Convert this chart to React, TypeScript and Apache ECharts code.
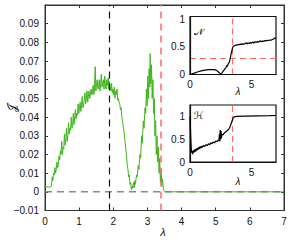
import React, { useEffect, useRef } from "react";
import * as echarts from "echarts";

// Main curve J(λ)
const mainX = [0, 0.05, 0.1, 0.15, 0.19, 0.21, 0.23, 0.25, 0.27, 0.29, 0.31, 0.33, 0.35, 0.37, 0.39, 0.41, 0.43, 0.45, 0.47, 0.49, 0.51, 0.53, 0.55, 0.57, 0.59, 0.61, 0.63, 0.65, 0.67, 0.69, 0.71, 0.73, 0.75, 0.77, 0.79, 0.81, 0.83, 0.85, 0.87, 0.89, 0.91, 0.93, 0.95, 0.97, 0.99, 1.01, 1.03, 1.05, 1.07, 1.09, 1.11, 1.13, 1.15, 1.17, 1.19, 1.21, 1.23, 1.25, 1.27, 1.29, 1.31, 1.33, 1.35, 1.37, 1.39, 1.41, 1.43, 1.45, 1.47, 1.49, 1.51, 1.53, 1.55, 1.57, 1.59, 1.61, 1.63, 1.65, 1.67, 1.69, 1.71, 1.73, 1.75, 1.77, 1.79, 1.81, 1.83, 1.85, 1.87, 1.89, 1.91, 1.93, 1.95, 1.97, 1.99, 2.01, 2.03, 2.05, 2.07, 2.09, 2.11, 2.13, 2.15, 2.17, 2.19, 2.21, 2.23, 2.25, 2.27, 2.29, 2.31, 2.33, 2.35, 2.37, 2.39, 2.41, 2.43, 2.45, 2.47, 2.49, 2.51, 2.53, 2.55, 2.57, 2.59, 2.61, 2.63, 2.65, 2.68, 2.7, 2.73, 2.75, 2.78, 2.8, 2.83, 2.85, 2.88, 2.9, 2.93, 2.95, 2.97, 2.99, 3.01, 3.03, 3.05, 3.07, 3.08, 3.1, 3.12, 3.14, 3.16, 3.18, 3.2, 3.22, 3.24, 3.26, 3.28, 3.3, 3.32, 3.34, 3.36, 3.38, 3.4, 3.42, 3.44, 3.47, 3.52, 7];
const mainY = [0.003, 0.0028, 0.0025, 0.0026, 0.003, 0.008, 0.006, 0.01, 0.009, 0.013, 0.01, 0.012, 0.016, 0.013, 0.014, 0.019, 0.017, 0.022, 0.02, 0.027, 0.02, 0.024, 0.023, 0.031, 0.025, 0.028, 0.034, 0.027, 0.03, 0.037, 0.031, 0.034, 0.033, 0.04, 0.034, 0.036, 0.042, 0.036, 0.04, 0.044, 0.039, 0.042, 0.041, 0.047, 0.042, 0.045, 0.048, 0.043, 0.046, 0.051, 0.045, 0.047, 0.049, 0.053, 0.047, 0.05, 0.054, 0.048, 0.051, 0.054, 0.05, 0.052, 0.055, 0.052, 0.053, 0.057, 0.052, 0.055, 0.067, 0.054, 0.058, 0.06, 0.055, 0.056, 0.06, 0.054, 0.058, 0.063, 0.056, 0.058, 0.06, 0.055, 0.062, 0.057, 0.055, 0.06, 0.057, 0.061, 0.055, 0.059, 0.056, 0.054, 0.058, 0.053, 0.055, 0.052, 0.056, 0.05, 0.054, 0.052, 0.055, 0.049, 0.05, 0.048, 0.047, 0.044, 0.045, 0.04, 0.038, 0.035, 0.033, 0.029, 0.026, 0.022, 0.019, 0.014, 0.012, 0.008, 0.009, 0.004, 0.005, 0.001, 0.003, 0.002, 0.005, 0.002, 0.006, 0.004, 0.009, 0.008, 0.014, 0.012, 0.02, 0.018, 0.03, 0.026, 0.038, 0.034, 0.045, 0.042, 0.055, 0.046, 0.062, 0.05, 0.066, 0.056, 0.074, 0.058, 0.068, 0.05, 0.06, 0.042, 0.05, 0.03, 0.038, 0.02, 0.03, 0.016, 0.024, 0.01, 0.018, 0.005, 0.012, 0.003, 0.007, 0.001, 0, 0];

// Inset N(λ)
const nX = [0, 0.3, 0.6, 0.9, 1.2, 1.5, 1.8, 2.0, 2.15, 2.3, 2.4, 2.5, 2.6, 2.7, 2.8, 2.9, 3.0, 3.05, 3.1, 3.2, 3.25, 3.3, 3.35, 3.4, 3.45, 3.5, 3.6, 3.7, 3.8, 3.9, 4.0, 4.1, 4.2, 4.3, 4.4, 4.5, 4.6, 4.65, 4.7, 4.8, 4.9, 5.0, 5.1, 5.2, 5.3, 5.4, 5.5, 5.6, 5.7, 5.8, 5.9, 6.0, 6.1, 6.2, 6.3, 6.4, 6.5, 6.6, 6.7, 6.8, 6.9, 7.0];
const nY = [0, 0.02, 0.045, 0.065, 0.078, 0.087, 0.09, 0.088, 0.075, 0.05, 0.025, 0.01, 0.03, 0.06, 0.09, 0.12, 0.16, 0.15, 0.19, 0.22, 0.27, 0.32, 0.38, 0.42, 0.47, 0.5, 0.52, 0.53, 0.53, 0.54, 0.54, 0.55, 0.545, 0.555, 0.55, 0.56, 0.575, 0.55, 0.57, 0.56, 0.58, 0.565, 0.59, 0.57, 0.595, 0.58, 0.6, 0.585, 0.61, 0.595, 0.605, 0.6, 0.615, 0.605, 0.62, 0.615, 0.625, 0.62, 0.635, 0.64, 0.66, 0.65];

// Inset H(λ)
const hX = [0, 0.03, 0.06, 0.1, 0.14, 0.18, 0.22, 0.26, 0.3, 0.35, 0.4, 0.45, 0.5, 0.55, 0.6, 0.65, 0.7, 0.75, 0.8, 0.85, 0.9, 0.95, 1.0, 1.1, 1.2, 1.3, 1.4, 1.5, 1.6, 1.7, 1.8, 1.9, 2.0, 2.1, 2.2, 2.3, 2.35, 2.4, 2.43, 2.46, 2.5, 2.53, 2.56, 2.6, 2.7, 2.8, 2.9, 3.0, 3.1, 3.2, 3.3, 3.4, 3.5, 3.6, 3.8, 4.5, 5.5, 6.5, 7.0];
const hY = [1.0, 0.8, 0.55, 0.3, 0.2, 0.24, 0.17, 0.25, 0.2, 0.27, 0.22, 0.28, 0.24, 0.3, 0.26, 0.31, 0.28, 0.33, 0.29, 0.34, 0.31, 0.35, 0.32, 0.36, 0.34, 0.38, 0.36, 0.4, 0.38, 0.42, 0.4, 0.44, 0.42, 0.46, 0.45, 0.48, 0.47, 0.62, 0.45, 0.7, 0.5, 0.68, 0.52, 0.6, 0.6, 0.64, 0.66, 0.68, 0.7, 0.74, 0.8, 0.88, 0.96, 0.99, 1.0, 1.005, 1.01, 1.015, 1.02];

const mainXTicks = [0, 1, 2, 3, 4, 5, 6, 7];
const lambdaBlack = 1.88;
const lambdaRed = 3.4;
const nThreshold = 0.3;

const zip = (xs: number[], ys: number[]) => xs.map((x, i) => [x, ys[i]]);

const FONT = "Liberation Sans, Arial, sans-serif";

export default function App() {
  const ref = useRef<HTMLDivElement>(null);
  useEffect(() => {
    if (!ref.current) return;
    const chart = echarts.init(ref.current, null, { renderer: "svg" });
    const labelStyle = { color: "#111", fontSize: 10, fontFamily: FONT };
    const insetAxisCommon = {
      type: "value" as const,
      axisLine: { show: true, onZero: false, lineStyle: { color: "#111", width: 1.2 } },
      axisTick: { show: false },
      splitLine: { show: false },
      z: 10,
    };
    chart.setOption({
      animation: false,
      backgroundColor: "#fff",
      grid: [
        { left: 45, top: 5, width: 239, height: 205.5, show: true, borderColor: "#333", borderWidth: 1, backgroundColor: "transparent" },
        { left: 190, top: 16.5, width: 86, height: 58, show: true, borderColor: "#111", borderWidth: 1.2, backgroundColor: "#fff", z: 5 },
        { left: 190, top: 105, width: 86, height: 57, show: true, borderColor: "#111", borderWidth: 1.2, backgroundColor: "#fff", z: 5 },
      ],
      xAxis: [
        {
          gridIndex: 0, type: "value", min: mainXTicks[0], max: mainXTicks[mainXTicks.length - 1], interval: 1, position: "bottom",
          axisLine: { show: true, onZero: false, lineStyle: { color: "#333" } },
          axisTick: { show: true, inside: true, length: 3, lineStyle: { color: "#333" } },
          axisLabel: { ...labelStyle, margin: 6 },
          splitLine: { show: false },
        },
        {
          gridIndex: 0, type: "value", min: 0, max: 7, interval: 1, position: "top",
          axisLine: { show: true, onZero: false, lineStyle: { color: "#333" } },
          axisTick: { show: true, inside: true, length: 3, lineStyle: { color: "#333" } },
          axisLabel: { show: false },
          splitLine: { show: false },
        },
        {
          ...insetAxisCommon, gridIndex: 1, min: 0, max: 7, interval: 5, position: "bottom",
          axisLabel: { ...labelStyle, margin: 5, formatter: (v: number) => (v === 0 || v === 5 ? String(v) : "") },
        },
        {
          ...insetAxisCommon, gridIndex: 2, min: 0, max: 7, interval: 5, position: "bottom",
          axisLabel: { ...labelStyle, margin: 5, formatter: (v: number) => (v === 0 || v === 5 ? String(v) : "") },
        },
      ],
      yAxis: [
        {
          gridIndex: 0, type: "value", min: -0.01, max: 0.1, interval: 0.01, position: "left",
          axisLine: { show: true, onZero: false, lineStyle: { color: "#333" } },
          axisTick: { show: true, inside: true, length: 3, lineStyle: { color: "#333" } },
          axisLabel: {
            ...labelStyle, margin: 6,
            formatter: (v: number) => {
              if (Math.abs(v) < 1e-9) return "0";
              if (v > 0.095) return "";
              return v.toFixed(2).replace("-", "\u2212");
            },
          },
          splitLine: { show: false },
        },
        {
          gridIndex: 0, type: "value", min: -0.01, max: 0.1, interval: 0.01, position: "right",
          axisLine: { show: true, onZero: false, lineStyle: { color: "#333" } },
          axisTick: { show: true, inside: true, length: 3, lineStyle: { color: "#333" } },
          axisLabel: { show: false },
          splitLine: { show: false },
        },
        {
          ...insetAxisCommon, gridIndex: 1, min: 0, max: 1.05, interval: 0.5, position: "left",
          axisLabel: { ...labelStyle, margin: 5, formatter: (v: number) => (v === 0 ? "0" : v === 0.5 ? "0.5" : v === 1 ? "1" : "") },
        },
        {
          ...insetAxisCommon, gridIndex: 2, min: 0, max: 1.25, interval: 0.5, position: "left",
          axisLabel: { ...labelStyle, margin: 5, formatter: (v: number) => (v === 0 ? "0" : v === 0.5 ? "0.5" : v === 1 ? "1" : "") },
        },
      ],
      series: [
        {
          type: "line", xAxisIndex: 0, yAxisIndex: 0, data: zip(mainX, mainY), showSymbol: false, z: 3,
          lineStyle: { color: "#3db51c", width: 1 },
          markLine: {
            silent: true, symbol: "none", label: { show: false },
            data: [
              { xAxis: lambdaBlack, lineStyle: { color: "#111", width: 1.2, type: [7, 5] } },
              { xAxis: lambdaRed, lineStyle: { color: "#ff6b6b", width: 1.5, type: [7, 5] } },
            ],
          },
        },
        {
          type: "line", xAxisIndex: 0, yAxisIndex: 0, data: [[0, 0], [7, 0]], showSymbol: false, z: 2,
          lineStyle: { color: "#888", width: 1.5, type: [7, 5] },
        },
        {
          type: "line", xAxisIndex: 2, yAxisIndex: 2, data: zip(nX, nY), showSymbol: false, z: 10,
          lineStyle: { color: "#000", width: 1.2 },
          markLine: {
            silent: true, symbol: "none", label: { show: false },
            data: [
              { xAxis: lambdaRed, lineStyle: { color: "#ff6b6b", width: 1.2, type: [6, 4] } },
              { yAxis: nThreshold, lineStyle: { color: "#ff6b6b", width: 1.2, type: [6, 4] } },
            ],
          },
        },
        {
          type: "line", xAxisIndex: 3, yAxisIndex: 3, data: zip(hX, hY), showSymbol: false, z: 10,
          lineStyle: { color: "#000", width: 1.2 },
          markLine: {
            silent: true, symbol: "none", label: { show: false },
            data: [{ xAxis: lambdaRed, lineStyle: { color: "#ff6b6b", width: 1.2, type: [6, 4] } }],
          },
        },
      ],
      graphic: [
        { type: "text", x: 163, y: 232, style: { text: "λ", font: `italic 11px ${FONT}`, fill: "#111", align: "center", verticalAlign: "middle" } },
        { type: "text", x: 12, y: 108, rotation: Math.PI / 2, style: { text: "𝒥", font: `11px DejaVu Sans, ${FONT}`, fill: "#111", align: "center", verticalAlign: "middle" } },
        { type: "text", x: 238, y: 91, z: 20, style: { text: "λ", font: `italic 10px ${FONT}`, fill: "#111", align: "center", verticalAlign: "middle" } },
        { type: "text", x: 238, y: 181, z: 20, style: { text: "λ", font: `italic 10px ${FONT}`, fill: "#111", align: "center", verticalAlign: "middle" } },
        { type: "text", x: 199, y: 31, z: 20, style: { text: "𝒩", font: `10px DejaVu Sans, ${FONT}`, fill: "#111", align: "center", verticalAlign: "middle" } },
        { type: "text", x: 199, y: 115, z: 20, style: { text: "ℋ", font: `10px DejaVu Sans, ${FONT}`, fill: "#111", align: "center", verticalAlign: "middle" } },
      ],
    });
    return () => chart.dispose();
  }, []);
  return <div ref={ref} style={{ position: "absolute", left: 0, top: 0, width: 291, height: 240 }} />;
}
